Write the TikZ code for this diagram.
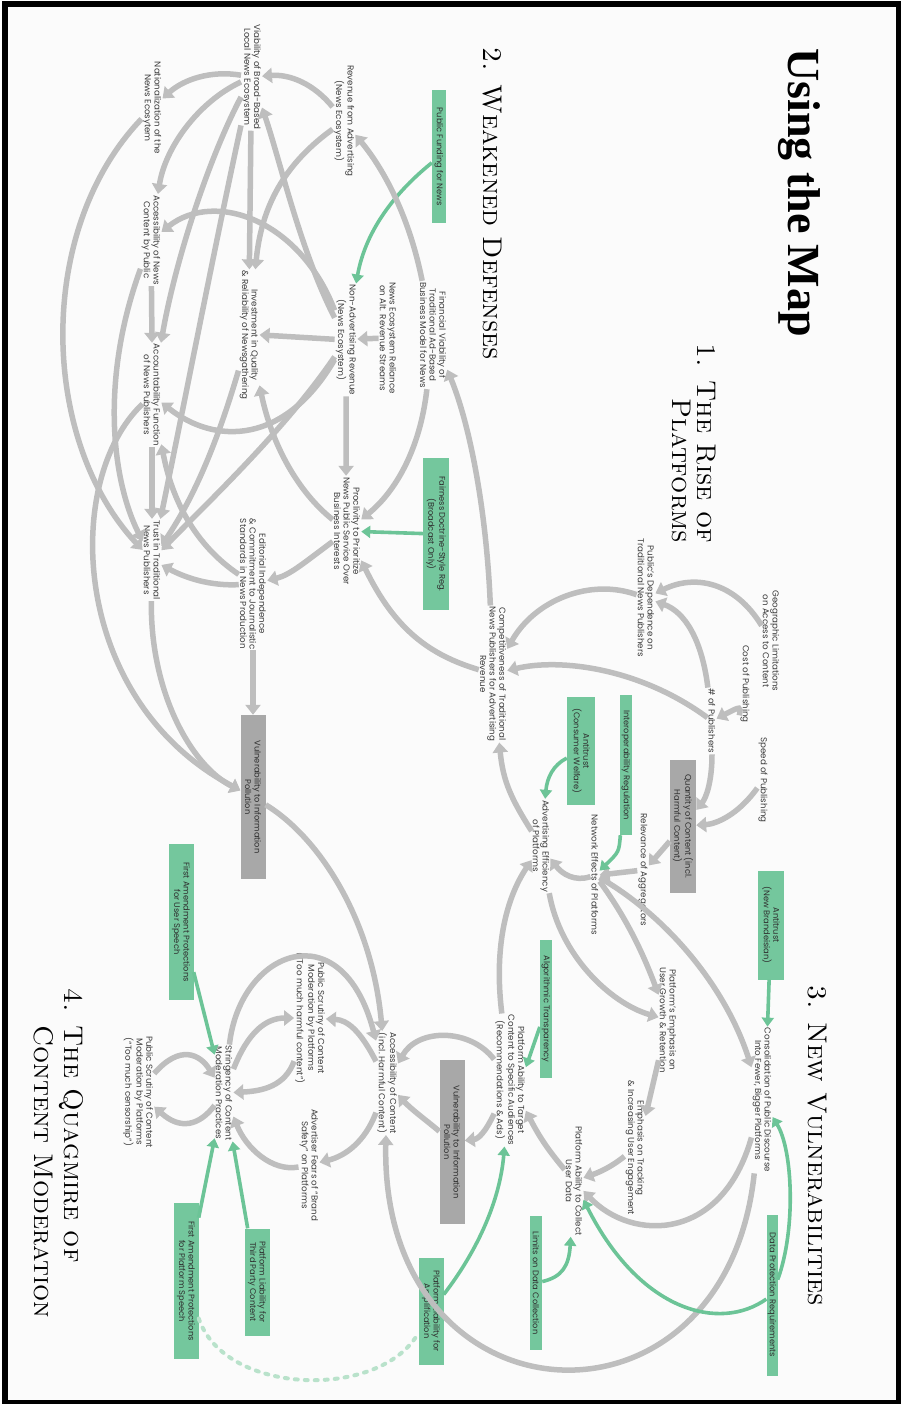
\documentclass[tikz,border=0pt]{standalone}
\usepackage{fontspec}
\setsansfont{Poppins}
\newfontfamily\titlefont{Liberation Serif}
\usetikzlibrary{arrows.meta}
\definecolor{wire}{HTML}{BEBEBE}
\definecolor{labelink}{HTML}{3C3C3C}
\definecolor{policy}{HTML}{74C79D}
\definecolor{policywire}{HTML}{6CC497}
\definecolor{policylight}{HTML}{B9E2CB}
\definecolor{risk}{HTML}{A8A8A8}
\definecolor{boxink}{HTML}{2E2E2E}
\definecolor{paper}{HTML}{FBFBFB}
\tikzset{
  lbl/.style={rotate=-90, align=center, text=labelink, inner sep=1pt,
    font=\sffamily\fontsize{8.7}{9.7}\selectfont},
  gbox/.style={rotate=-90, align=center, fill=policy, text=boxink, inner sep=0pt,
    font=\sffamily\fontsize{8.3}{9.5}\selectfont},
  rbox/.style={gbox, fill=risk},
  head/.style={rotate=-90, font=\fontsize{27}{27}\selectfont\scshape, text=black, inner sep=0pt},
  ga/.style={draw=wire, line width=5.5pt, -{Triangle[length=10pt,width=15pt]}},
  pa/.style={draw=policywire, line width=3.6pt, -{Triangle[length=9pt,width=12pt]}},
  dots/.style={draw=policylight, line width=4pt, dash pattern=on 3pt off 7pt, line cap=round}
}
\begin{document}
\begin{tikzpicture}[x=1pt,y=-1pt]
\useasboundingbox (0,0) rectangle (901,1404);
% frame
\fill[white] (0,0) rectangle (901,1404);
\fill[black] (2,1.5) rectangle (901,1404);
\fill[paper] (8,7) rectangle (896,1400);

% headings
\node[rotate=-90, anchor=base west, inner sep=0pt,
  font=\titlefont\bfseries\fontsize{46}{46}\selectfont] (title) at (788,48) {Using the Map};
\node[head, anchor=base west] (h2) at (483,47) {2. Weakened Defenses};
\node[head, anchor=base east] (h1a) at (697,543) {1. The Rise of};
\node[head, anchor=base east] (h1b) at (672,543) {Platforms};
\node[head, anchor=base west] (h3) at (808,985) {3. New Vulnerabilities};
\node[head, anchor=base west] (h4a) at (64,988) {4. The Quagmire of};
\node[head, anchor=base west] (h4b) at (34,1025) {Content Moderation};

% labels
\node[lbl] (vbb) at (251.5,77) {Viability of Broad-Based\\Local News Ecosystem};
\node[lbl] (nat) at (152,108) {Nationalization of the\\News Ecosytem};
\node[lbl] (accn) at (151,240) {Accessibility of News\\Content by Public};
\node[lbl] (inv) at (249,335) {Investment in Quality\\\& Reliability of Newsgathering};
\node[lbl] (acct) at (152,395) {Accountability Function\\of News Publishers};
\node[lbl] (trust) at (152,560) {Trust in Traditional\\News Publishers};
\node[lbl] (edit) at (253,584) {Editorial Independence\\\& Commitment to Journalistic\\Standards in News Production};
\node[lbl] (revad) at (344,121) {Revenue from Advertising\\(News Ecosystem)};
\node[lbl] (finv) at (433,335) {Financial Viability of\\Traditional Ad-Based\\Business Model for News};
\node[lbl] (rel) at (388,338) {News Ecosystem Reliance\\on Alt. Revenue Streams};
\node[lbl] (nonad) at (346,340) {Non-Advertising Revenue\\(News Ecosystem)};
\node[lbl] (procl) at (347,531) {Proclivity to Prioritize\\News Public Service Over\\Business Interests};
\node[lbl] (comp) at (493,674) {Competitiveness of Traditional\\News Publishers for Advertising\\Revenue};
\node[lbl] (pubdep) at (646,598) {Public’s Dependence on\\Traditional News Publishers};
\node[lbl] (geo) at (771,641) {Geographic Limitations\\on Access to Content};
\node[lbl] (cost) at (745,684) {Cost of Publishing};
\node[lbl] (npub) at (712,721) {\# of Publishers};
\node[lbl] (speed) at (763,780) {Speed of Publishing};
\node[lbl] (relag) at (643,870) {Relevance of Aggregators};
\node[lbl] (neteff) at (595,875) {Network Effects of Platforms};
\node[lbl] (adeff) at (541,846) {Advertising Efficiency\\of Platforms};
\node[lbl] (target) at (510,1080) {Platform Ability to Target\\Content to Specific Audiences\\(Recommendations \& Ads)};
\node[lbl] (growth) at (668,1020) {Platform’s Emphasis on\\User Growth \& Retention};
\node[lbl] (track) at (635,1148) {Emphasis on Tracking\\\& Increasing User Engagement};
\node[lbl] (consol) at (762,1100) {Consolidation of Public Discourse\\Into Fewer, Bigger Platforms};
\node[lbl] (collect) at (574,1181) {Platform Ability to Collect\\User Data};
\node[lbl] (access) at (387,1083) {Accessibility of Content\\(incl. Harmful Content)};
\node[lbl] (fears) at (309,1165) {Advertiser Fears of “Brand\\Safety” on Platforms};
\node[lbl] (scrh) at (310,1018) {Public Scrutiny of Content\\Moderation by Platforms\\(“Too much harmful content”)};
\node[lbl] (string) at (224,1093) {Stringency of Content\\Moderation Practices};
\node[lbl] (scrc) at (138,1092) {Public Scrutiny of Content\\Moderation by Platforms\\(“Too much censorship”)};

% policy levers
\node[gbox, minimum width=133pt, minimum height=14pt] (pubfund) at (439,157) {Public Funding for News};
\node[gbox, minimum width=152pt, minimum height=26pt] (fair) at (436,534) {Fairness Doctrine-Style Reg.\\(Broadcast Only)};
\node[gbox, minimum width=140pt, minimum height=12pt] (interop) at (626,765) {Interoperability Regulation};
\node[gbox, minimum width=108pt, minimum height=28pt] (atcw) at (581,751) {Antitrust\\(Consumer Welfare)};
\node[gbox, minimum width=138pt, minimum height=12pt] (algo) at (546,1009) {Algorithmic Transparency};
\node[gbox, minimum width=109pt, minimum height=26pt] (atnb) at (771,925) {Antitrust\\(New Brandeisian)};
\node[gbox, minimum width=134pt, minimum height=12pt] (limits) at (536,1283) {Limits on Data Collection};
\node[gbox, minimum width=161pt, minimum height=11pt] (datap) at (772,1295) {Data Protection Requirements};
\node[gbox, minimum width=107pt, minimum height=25pt] (plamp) at (431,1311) {Platform Liability for\\Amplification};
\node[gbox, minimum width=156pt, minimum height=25pt] (fauser) at (181,922) {First Amendment Protections\\for User Speech};
\node[gbox, minimum width=156pt, minimum height=25pt] (faplat) at (186,1281) {First Amendment Protections\\for Platform Speech};
\node[gbox, minimum width=107pt, minimum height=25pt] (pl3p) at (257,1282) {Platform Liability for\\Third Party Content};

% risk boxes
\node[rbox, minimum width=133pt, minimum height=26pt] (quant) at (683,826) {Quantity of Content (incl.\\Harmful Content)};
\node[rbox, minimum width=164pt, minimum height=25pt] (vulnl) at (253,797) {Vulnerability to Information\\Pollution};
\node[rbox, minimum width=164pt, minimum height=25pt] (vulnr) at (452,1142) {Vulnerability to Information\\Pollution};

% ---- 1. rise of platforms
\draw[ga] ([shift={(757-771,621-641)}]geo) .. controls (735,582) and (695,574) .. ([shift={(660-646,588-598)}]pubdep);
\draw[ga] ([shift={(709-712,680-721)}]npub) .. controls (702,640) and (685,612) .. ([shift={(663-646,604-598)}]pubdep);
\draw[ga] ([shift={(743-745,718-684)}]cost) .. controls (741,706) .. ([shift={(722-712,704-721)}]npub);
\draw[ga] ([shift={(633-646,593-598)}]pubdep) .. controls (590,578) and (535,600) .. ([shift={(513-493,641-674)}]comp);
\draw[ga] ([shift={(690-712,698-721)}]npub) .. controls (640,668) and (560,658) .. ([shift={(513-493,669-674)}]comp);
\draw[ga] ([shift={(755-763,794-780)}]speed) .. controls (738,815) and (716,824) .. ([shift={(698-683,827-826)}]quant);
\draw[ga] ([shift={(712-712,762-721)}]npub) .. controls (712,782) and (706,798) .. ([shift={(698-683,804-826)}]quant);
\draw[ga] ([shift={(668-683,850-826)}]quant) -- ([shift={(652-643,864-870)}]relag);
\draw[ga] ([shift={(637-643,875-870)}]relag) -- ([shift={(609-595,878-875)}]neteff);
\draw[pa] ([shift={(623-626,835-765)}]interop) .. controls (619,852) .. ([shift={(606-595,868-875)}]neteff);
\draw[ga] ([shift={(588-595,878-875)}]neteff) .. controls (575,882) and (562,874) .. ([shift={(554-541,862-846)}]adeff);
\draw[ga] ([shift={(610-595,884-875)}]neteff) .. controls (622,912) and (640,945) .. ([shift={(652-668,966-1020)}]growth);
\draw[ga] ([shift={(610-595,882-875)}]neteff) .. controls (665,915) and (725,985) .. ([shift={(748-762,1046-1100)}]consol);
\draw[ga] ([shift={(545-541,904-846)}]adeff) .. controls (560,955) and (610,1003) .. ([shift={(650-668,1015-1020)}]growth);
\draw[pa] ([shift={(567-581,757-751)}]atcw) .. controls (553,765) and (547,778) .. ([shift={(547-541,793-846)}]adeff);
\draw[ga] ([shift={(527-541,825-846)}]adeff) .. controls (512,800) and (503,782) .. ([shift={(500-493,757-674)}]comp);

% ---- 2. weakened defenses
\draw[ga] ([shift={(495-493,600-674)}]comp) .. controls (487,520) and (472,430) .. ([shift={(452-433,377-335)}]finv);
\draw[ga] ([shift={(473-493,667-674)}]comp) .. controls (430,655) and (395,630) .. ([shift={(368-347,572-531)}]procl);
\draw[ga] ([shift={(422-433,404-335)}]finv) .. controls (420,450) and (395,492) .. ([shift={(367-347,511-531)}]procl);
\draw[pa] ([shift={(423-436,534-534)}]fair) -- ([shift={(365-347,534-531)}]procl);
\draw[ga] ([shift={(345-346,408-340)}]nonad) -- ([shift={(345-347,462-531)}]procl);
\draw[ga] ([shift={(380-388,337-338)}]rel) -- ([shift={(357-346,338-340)}]nonad);
\draw[pa] ([shift={(432-439,162-157)}]pubfund) .. controls (398,190) and (366,228) .. ([shift={(357-346,276-340)}]nonad);
\draw[ga] ([shift={(422-433,267-335)}]finv) .. controls (410,220) and (386,172) .. ([shift={(359-344,137-121)}]revad);
\draw[ga] ([shift={(332-344,103-121)}]revad) .. controls (314,84) and (290,74) .. ([shift={(265-251.5,77-77)}]vbb);
\draw[ga] ([shift={(332-344,133-121)}]revad) .. controls (290,160) and (262,200) .. ([shift={(263-249,250-335)}]inv);
\draw[ga] ([shift={(333-346,290-340)}]nonad) .. controls (300,250) and (280,160) .. ([shift={(268-251.5,96-77)}]vbb);
\draw[ga] ([shift={(335-346,272-340)}]nonad) .. controls (300,220) and (215,190) .. ([shift={(166-151,229-240)}]accn);
\draw[ga] ([shift={(335-346,334-340)}]nonad) -- ([shift={(264-249,333-335)}]inv);
\draw[ga] ([shift={(332-346,366-340)}]nonad) .. controls (285,445) and (215,445) .. ([shift={(167-152,409-395)}]acct);
\draw[ga] ([shift={(333-346,380-340)}]nonad) .. controls (285,430) and (205,505) .. ([shift={(167-152,551-560)}]trust);
\draw[ga] ([shift={(327-347,512-531)}]procl) .. controls (298,492) and (272,445) .. ([shift={(263-249,401-335)}]inv);
\draw[ga] ([shift={(327-347,549-531)}]procl) .. controls (305,562) and (290,575) .. ([shift={(273-253,579-584)}]edit);
\draw[ga] ([shift={(238-251.5,74-77)}]vbb) .. controls (210,70) and (183,80) .. ([shift={(165-152,97-108)}]nat);
\draw[ga] ([shift={(237-251.5,86-77)}]vbb) .. controls (198,102) and (165,148) .. ([shift={(160-151,185-240)}]accn);
\draw[ga] ([shift={(250-251.5,142-77)}]vbb) -- ([shift={(249-249,250-335)}]inv);
\draw[ga] ([shift={(238-251.5,102-77)}]vbb) .. controls (208,160) and (175,262) .. ([shift={(163-152,328-395)}]acct);
\draw[ga] ([shift={(239-251.5,140-77)}]vbb) .. controls (214,250) and (185,400) .. ([shift={(165-152,506-560)}]trust);
\draw[ga] ([shift={(152-151,300-240)}]accn) -- ([shift={(152-152,334-395)}]acct);
\draw[ga] ([shift={(138-152,122-108)}]nat) .. controls (35,230) and (40,440) .. ([shift={(137-152,544-560)}]trust);
\draw[ga] ([shift={(138-151,276-240)}]accn) .. controls (100,380) and (112,480) .. ([shift={(137-152,531-560)}]trust);
\draw[ga] ([shift={(235-249,391-335)}]inv) .. controls (215,450) and (192,500) .. ([shift={(167-152,533-560)}]trust);
\draw[ga] ([shift={(233-253,586-584)}]edit) .. controls (210,586) and (186,578) .. ([shift={(170-152,571-560)}]trust);
\draw[ga] ([shift={(233-253,569-584)}]edit) .. controls (195,545) and (172,500) .. ([shift={(167-152,459-395)}]acct);
\draw[ga] ([shift={(152-152,458-395)}]acct) -- ([shift={(153-152,508-560)}]trust);
\draw[ga] ([shift={(138-152,414-395)}]acct) .. controls (62,480) and (70,700) .. ([shift={(237-253,789-797)}]vulnl);
\draw[ga] ([shift={(147-152,608-560)}]trust) .. controls (150,690) and (190,765) .. ([shift={(237-253,786-797)}]vulnl);
\draw[ga] ([shift={(253-253,666-584)}]edit) -- ([shift={(253-253,714-797)}]vulnl);
\draw[ga] ([shift={(265-253,805-797)}]vulnl) .. controls (320,838) and (372,920) .. ([shift={(378-387,1014-1083)}]access);

% ---- 3. new vulnerabilities
\draw[ga] ([shift={(656-668,1084-1020)}]growth) -- ([shift={(648-635,1110-1148)}]track);
\draw[ga] ([shift={(622-635,1156-1148)}]track) .. controls (611,1167) and (600,1172) .. ([shift={(590-574,1175-1181)}]collect);
\draw[ga] ([shift={(750-762,1151-1100)}]consol) .. controls (722,1242) and (632,1242) .. ([shift={(591-574,1197-1181)}]collect);
\draw[ga] ([shift={(752-762,1193-1100)}]consol) .. controls (725,1450) and (380,1430) .. ([shift={(387-387,1148-1083)}]access);
\draw[pa] ([shift={(771-771,980-925)}]atnb) -- ([shift={(771-762,1016-1100)}]consol);
\draw[pa] ([shift={(778-772,1300-1295)}]datap) .. controls (796,1230) and (793,1150) .. ([shift={(781-762,1101-1100)}]consol);
\draw[pa] ([shift={(778-772,1306-1295)}]datap) .. controls (720,1332) and (640,1312) .. ([shift={(597-574,1237-1181)}]collect);
\draw[ga] ([shift={(561-574,1171-1181)}]collect) .. controls (550,1152) and (541,1140) .. ([shift={(530-510,1136-1080)}]target);
\draw[pa] ([shift={(542-536,1282-1283)}]limits) .. controls (562,1277) and (569,1266) .. ([shift={(567-574,1250-1181)}]collect);
\draw[pa] ([shift={(443-431,1308-1311)}]plamp) .. controls (478,1250) and (500,1200) .. ([shift={(505-510,1162-1080)}]target);
\draw[pa] ([shift={(541-546,1055-1009)}]algo) -- ([shift={(529-510,1068-1080)}]target);
\draw[ga] ([shift={(498-510,997-1080)}]target) .. controls (494,950) and (505,900) .. ([shift={(527-541,871-846)}]adeff);
\draw[ga] ([shift={(490-510,1123-1080)}]target) .. controls (485,1133) and (478,1139) .. ([shift={(466-452,1141-1142)}]vulnr);
\draw[ga] ([shift={(440-452,1138-1142)}]vulnr) .. controls (426,1120) and (412,1110) .. ([shift={(400-387,1105-1083)}]access);
\draw[ga] ([shift={(487-510,1056-1080)}]target) .. controls (470,1028) and (418,1028) .. ([shift={(400-387,1063-1083)}]access);

% ---- 4. content moderation
\draw[ga] ([shift={(373-387,1116-1083)}]access) .. controls (365,1142) and (345,1156) .. ([shift={(321-309,1161-1165)}]fears);
\draw[ga] ([shift={(367-387,1045-1083)}]access) .. controls (360,1030) and (347,1020) .. ([shift={(331-310,1019-1018)}]scrh);
\draw[ga] ([shift={(227-224,1035-1093)}]string) .. controls (240,950) and (342,910) .. ([shift={(386-387,1016-1083)}]access);
\draw[ga] ([shift={(238-224,1056-1093)}]string) .. controls (248,1032) and (266,1018) .. ([shift={(287-310,1016-1018)}]scrh);
\draw[ga] ([shift={(297-310,1072-1018)}]scrh) .. controls (285,1086) and (263,1091) .. ([shift={(241-224,1087-1093)}]string);
\draw[ga] ([shift={(297-309,1163-1165)}]fears) .. controls (272,1172) and (246,1148) .. ([shift={(237-224,1119-1093)}]string);
\draw[ga] ([shift={(163-138,1053-1092)}]scrc) .. controls (180,1044) and (200,1054) .. ([shift={(210-224,1068-1093)}]string);
\draw[ga] ([shift={(210-224,1110-1093)}]string) .. controls (199,1126) and (180,1130) .. ([shift={(160-138,1121-1092)}]scrc);
\draw[pa] ([shift={(195-181,975-922)}]fauser) -- ([shift={(212-224,1043-1093)}]string);
\draw[pa] ([shift={(198-186,1218-1281)}]faplat) -- ([shift={(212-224,1155-1093)}]string);
\draw[pa] ([shift={(248-257,1228-1282)}]pl3p) -- ([shift={(235-224,1155-1093)}]string);
\draw[dots] ([shift={(200-186,1359-1281)}]faplat) .. controls (225,1396) and (380,1400) .. ([shift={(418-431,1362-1311)}]plamp);
\end{tikzpicture}
\end{document}
